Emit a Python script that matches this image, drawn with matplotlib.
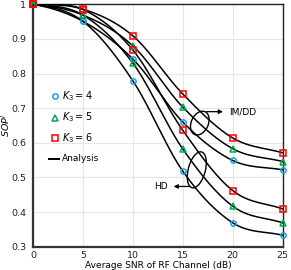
import numpy as np
import matplotlib
matplotlib.use("Agg")
import matplotlib.pyplot as plt
from matplotlib.patches import Ellipse
from matplotlib.transforms import ScaledTranslation

snr = [0, 5, 10, 15, 20, 25]
imdd_k4 = [1.0, 0.951, 0.842, 0.660, 0.549, 0.522]
imdd_k5 = [1.0, 0.969, 0.880, 0.703, 0.583, 0.546]
imdd_k6 = [1.0, 0.986, 0.909, 0.741, 0.614, 0.571]
hd_k4 = [1.0, 0.951, 0.779, 0.518, 0.369, 0.333]
hd_k5 = [1.0, 0.969, 0.830, 0.582, 0.417, 0.369]
hd_k6 = [1.0, 0.985, 0.868, 0.636, 0.462, 0.409]
xticks = [0, 5, 10, 15, 20, 25]
yticks = [0.3, 0.4, 0.5, 0.6, 0.7, 0.8, 0.9, 1.0]
ytick_labels = ["0.3", "0.4", "0.5", "0.6", "0.7", "0.8", "0.9", "1"]


def smooth(x, y, n=30):
    # Catmull-Rom style smoothing through the data points (like Excel smoothed lines)
    x = np.asarray(x, float); y = np.asarray(y, float)
    px = np.concatenate([[2 * x[0] - x[1]], x, [2 * x[-1] - x[-2]]])
    py = np.concatenate([[y[0]], y, [2 * y[-1] - y[-2]]])
    xs, ys = [], []
    t = np.linspace(0, 1, n)
    for i in range(1, len(px) - 2):
        p0, p1, p2, p3 = [np.array([px[j], py[j]]) for j in (i - 1, i, i + 1, i + 2)]
        m1 = (p2 - p0) / 6.0
        m2 = (p3 - p1) / 6.0
        b0, b1, b2, b3 = p1, p1 + m1, p2 - m2, p2
        pts = ((1 - t) ** 3)[:, None] * b0 + (3 * (1 - t) ** 2 * t)[:, None] * b1 \
            + (3 * (1 - t) * t ** 2)[:, None] * b2 + (t ** 3)[:, None] * b3
        xs.append(pts[:, 0]); ys.append(pts[:, 1])
    return np.concatenate(xs), np.concatenate(ys)


fig = plt.figure(figsize=(2.91, 2.70), dpi=100)
ax = fig.add_axes([0.1134, 0.0863, 0.8581, 0.8977])

for ys in [imdd_k4, imdd_k5, imdd_k6, hd_k4, hd_k5, hd_k6]:
    sx, sy = smooth(snr, ys)
    ax.plot(sx, sy, color="black", lw=1.1, zorder=3)

blue, green, red = "#1BA1E2", "#00A651", "#FF0000"
mk = dict(linestyle="none", markersize=3.8, markeredgewidth=1.1, markerfacecolor="none",
          zorder=4, clip_on=False)
ax.plot(snr, imdd_k4, marker="o", color=blue, **mk)
ax.plot(snr, hd_k4, marker="o", color=blue, **mk)
ax.plot(snr, imdd_k5, marker="^", color=green, **mk)
ax.plot(snr, hd_k5, marker="^", color=green, **mk)
ax.plot(snr, imdd_k6, marker="s", color=red, **mk)
ax.plot(snr, hd_k6, marker="s", color=red, **mk)

ax.set_xlim(0, 25)
ax.set_ylim(0.3, 1.0)
ax.set_xticks(xticks)
ax.set_yticks(yticks)
ax.set_yticklabels(ytick_labels)
ax.grid(True, color="#e6e6e6", lw=0.8, zorder=0)
ax.set_axisbelow(True)
ax.tick_params(length=0, labelsize=6.8, colors="#222222")
ax.tick_params(axis="x", pad=3)
ax.tick_params(axis="y", pad=5)
for s in ["left", "bottom"]:
    ax.spines[s].set_linewidth(1.6)
    ax.spines[s].set_color("#333333")
for s in ["top", "right"]:
    ax.spines[s].set_linewidth(1.0)
    ax.spines[s].set_color("#222222")

ax.set_xlabel("Average SNR of RF Channel (dB)", fontsize=6.5, labelpad=1)
ax.set_ylabel("$SOP^l$", fontsize=6.8)
ax.yaxis.set_label_coords(-0.085, 0.5)

# legend (manual, inside axes)
lx_m, lx_t = 2.2, 2.9
leg = [(0.736, "o", blue, "$K_3 = 4$"), (0.673, "^", green, "$K_3 = 5$"),
       (0.614, "s", red, "$K_3 = 6$")]
for yy, m, c, lab in leg:
    ax.plot([lx_m], [yy], marker=m, color=c, linestyle="none", markersize=3.8,
            markeredgewidth=1.1, markerfacecolor="none", zorder=5)
    ax.text(lx_t, yy, lab, fontsize=7, va="center", ha="left")
ax.plot([1.6, 2.6], [0.553, 0.553], color="black", lw=1.4)
ax.text(2.9, 0.556, "Analysis", fontsize=6.5, va="center", ha="left")

# ellipses and arrows
def draw_ellipse(xc, yc, w_in, h_in, angle):
    tr = fig.dpi_scale_trans + ScaledTranslation(xc, yc, ax.transData)
    e = Ellipse((0, 0), w_in, h_in, angle=angle, fill=False, edgecolor="black", lw=1.0,
                transform=tr, zorder=6)
    ax.add_patch(e)

draw_ellipse(16.7, 0.657, 0.17, 0.25, -25)
draw_ellipse(16.4, 0.522, 0.17, 0.37, -15)

ax.annotate("", xy=(19.3, 0.690), xytext=(17.1, 0.690),
            arrowprops=dict(arrowstyle="-|>", color="black", lw=0.9, mutation_scale=6))
ax.text(19.6, 0.690, "IM/DD", fontsize=6.5, va="center", ha="left")
ax.annotate("", xy=(13.8, 0.474), xytext=(16.0, 0.474),
            arrowprops=dict(arrowstyle="-|>", color="black", lw=0.9, mutation_scale=6))
ax.text(13.5, 0.474, "HD", fontsize=6.5, va="center", ha="right")

fig.savefig("out.png", dpi=100)
